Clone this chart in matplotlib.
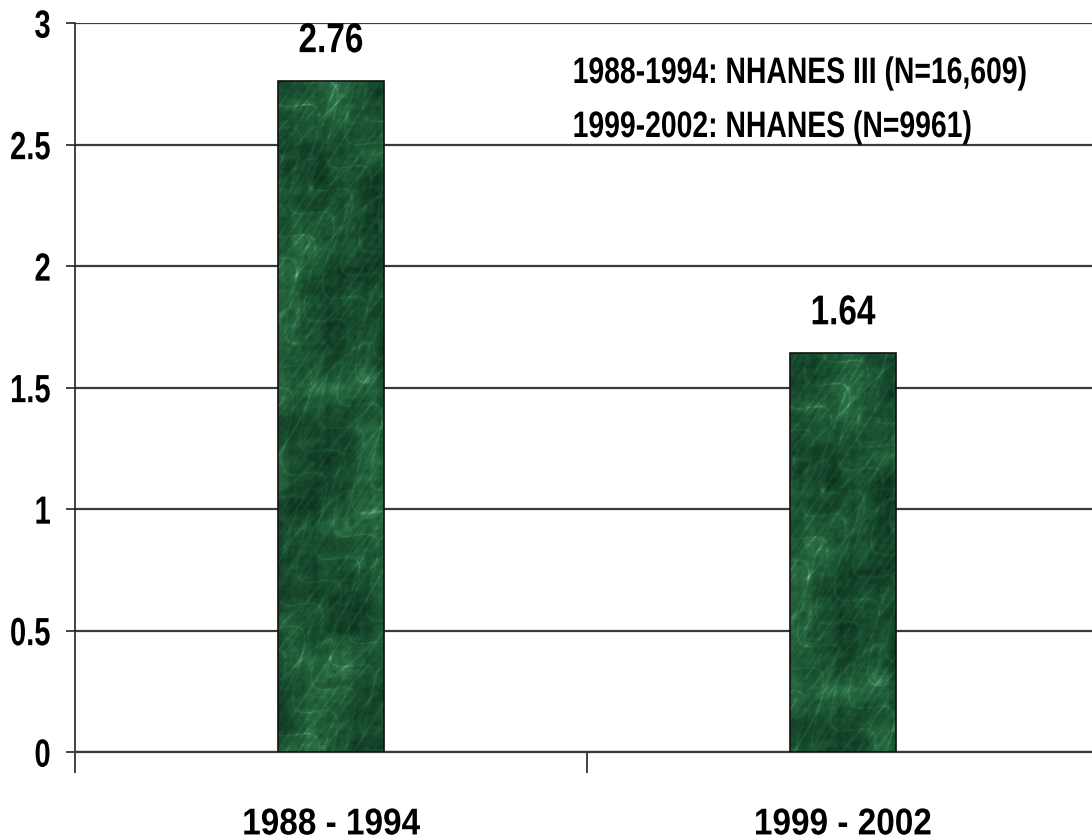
import numpy as np
import matplotlib
matplotlib.use("Agg")
import matplotlib.pyplot as plt
from matplotlib.colors import LinearSegmentedColormap
from matplotlib.patheffects import AbstractPathEffect
from matplotlib.transforms import Affine2D

# data
periods = ["1988 - 1994", "1999 - 2002"]
values = [2.76, 1.64]
value_labels = ["2.76", "1.64"]
notes = ["1988-1994: NHANES III (N=16,609)", "1999-2002: NHANES (N=9961)"]
yticks = [0, 0.5, 1, 1.5, 2, 2.5, 3]
ytick_labels = ["0", "0.5", "1", "1.5", "2", "2.5", "3"]


class Tall(AbstractPathEffect):
    # draws text glyphs taller (narrow-font look), scaling about a height c in font units
    def __init__(self, s, c=0.0):
        super().__init__()
        self.s = s
        self.c = c

    def draw_path(self, renderer, gc, tpath, affine, rgbFace=None):
        pre = Affine2D().translate(0, -self.c).scale(1, self.s).translate(0, self.c)
        renderer.draw_path(gc, tpath, pre + affine, rgbFace)


plt.rcParams['font.family'] = ['Liberation Sans', 'DejaVu Sans']
plt.rcParams['font.weight'] = 'bold'

fig = plt.figure(figsize=(10.92, 8.4), dpi=100)
ax = fig.add_axes([75 / 1092, 1 - 752 / 840, 1024 / 1092, 729 / 840])

x = np.arange(len(periods))
bars = ax.bar(x, values, width=0.207, color='#1f5a38', edgecolor='#111111', linewidth=1.2, zorder=3)

# green marble texture for the bars (decorative only)
marble = LinearSegmentedColormap.from_list(
    'marble', ['#0b3019', '#15442a', '#1f5a37', '#2f7449', '#5aa27a', '#8cc8a4'])
px, py = np.meshgrid(np.arange(110) / 10.0, np.arange(700) / 10.0)
cloud = np.zeros_like(px)
veins = np.zeros_like(px)
for i, (fx, fy, ph) in enumerate([(0.31, 0.17, 0.0), (0.53, -0.41, 1.3), (-0.87, 0.66, 2.1),
                                  (1.37, 1.05, 0.7), (-2.1, 1.8, 3.3), (2.9, -2.6, 1.9),
                                  (4.3, 3.7, 0.4), (-5.9, 4.8, 2.7)]):
    cloud += np.sin(fx * px + fy * py + ph + 1.5 * np.sin(0.7 * fy * px - 0.9 * fx * py)) / (1 + i * 0.6)
for fx, fy, ph in [(1.1, 0.45, 0.3), (-0.8, 0.95, 1.7), (2.3, -1.4, 2.5), (-3.1, 2.2, 0.9)]:
    veins += np.exp(-np.abs(np.sin(fx * px + fy * py + ph + 2.2 * np.sin(0.5 * py - 0.6 * px + ph))) * 9)
tex = 0.62 * (cloud - cloud.min()) / (cloud.max() - cloud.min()) + 0.45 * veins / veins.max() ** 0.9
tex = np.clip(tex, 0, 1)
px_per_unit = 729 / 3.0
for i, b in enumerate(bars):
    x0, w, h = b.get_x(), b.get_width(), b.get_height()
    nrows = int(h * px_per_unit)
    sub = tex[i * 20:i * 20 + nrows] if i == 0 else tex[-nrows:]
    im = ax.imshow(sub, cmap=marble, extent=[x0, x0 + w, 0, h], aspect='auto',
                   origin='lower', zorder=3, interpolation='bilinear')
    im.set_clip_path(b)
    ax.annotate(value_labels[i], (x0 + w / 2, h), xytext=(0, 21), textcoords='offset points',
                ha='center', va='baseline', fontsize=24, fontweight='bold',
                path_effects=[Tall(1.25, 0)])
    b.set_facecolor('none')
    b.set_zorder(4)

ax.set_xlim(-0.5, 1.5)
ax.set_ylim(0, 3)
ax.set_yticks(yticks)
ax.set_yticklabels(ytick_labels, fontsize=21, fontweight='bold')
for t in ax.get_yticklabels():
    t.set_path_effects([Tall(1.35, 36)])
ax.set_xticks([-0.5, 0.5, 1.5])
ax.set_xticklabels([])
ax.set_xticks(x, minor=True)
ax.set_xticklabels(periods, minor=True, fontsize=24, fontweight='bold')
for t in ax.get_xticklabels(minor=True):
    t.set_path_effects([Tall(1.12, 72)])
ax.tick_params(axis='x', which='minor', length=0, pad=40)
ax.tick_params(axis='x', which='major', length=15, width=1.2, direction='out', color='#222222')
ax.tick_params(axis='y', length=6.5, width=1.2, pad=11, direction='out', color='#222222')

ax.yaxis.grid(True, color='#3a3a3a', linewidth=1.6, zorder=0)
ax.set_axisbelow(True)
for s in ['top', 'right']:
    ax.spines[s].set_visible(False)
ax.spines['left'].set_linewidth(1.2)
ax.spines['left'].set_color('#222222')
ax.spines['bottom'].set_linewidth(1.6)
ax.spines['bottom'].set_color('#3a3a3a')

ax.text(0.486, 0.9177, notes[0], transform=ax.transAxes, fontsize=20.4, fontweight='bold',
        va='baseline', path_effects=[Tall(1.3, 0)])
ax.text(0.486, 0.8436, notes[1], transform=ax.transAxes, fontsize=20.4, fontweight='bold',
        va='baseline', path_effects=[Tall(1.3, 0)])

fig.savefig("out.png", dpi=100)
